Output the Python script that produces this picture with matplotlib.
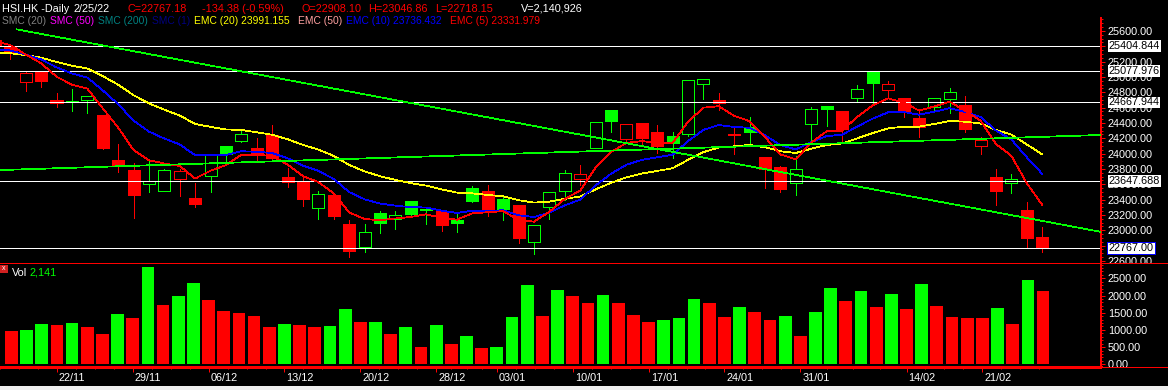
import numpy as np
import pandas as pd
import matplotlib
matplotlib.use('Agg')
import matplotlib.pyplot as plt
from matplotlib.patches import Rectangle
from matplotlib.lines import Line2D
from matplotlib.transforms import blended_transform_factory
from matplotlib.ticker import MultipleLocator, FormatStrFormatter

plt.rcParams['font.family'] = ['Liberation Sans', 'DejaVu Sans']
plt.rcParams['lines.antialiased'] = False
plt.rcParams['patch.antialiased'] = False

# trading days shown (HK holidays removed)
dates = pd.bdate_range('2021-11-17', '2022-02-25', freq='C',
                       holidays=['2021-12-27', '2022-02-01', '2022-02-02', '2022-02-03'])

opens = [25480, 25385, 24939, 25069, 24700, 24680, 24704, 24504, 23917, 23787,
         23600, 23517, 23674, 23422, 23709, 24100, 24169, 24074, 24244, 23692,
         23643, 23287, 23461, 23083, 22787, 23226, 23144, 23383, 23270, 23252,
         23135, 23552, 23513, 23409, 23330, 22844, 23309, 23517, 23674, 24070,
         24570, 24187, 24396, 24283, 24230, 24257, 24905, 24700, 24250, 24344,
         23957, 23826, 23622, 24391, 24620, 24557, 24730, 25065, 24834, 24722,
         24461, 24613, 24713, 24635, 24104, 23700, 23613, 23265, 22908.10]
highs = [25560, 25430, 25078, 25078, 24787, 24839, 24752, 24510, 24126, 23874,
         23913, 23800, 23796, 23617, 23983, 24100, 24309, 24200, 24374, 23809,
         23713, 23513, 23470, 23135, 23083, 23252, 23252, 23383, 23296, 23252,
         23230, 23578, 23591, 23439, 23330, 23070, 23496, 23787, 23852, 24409,
         24570, 24383, 24396, 24374, 24287, 24961, 24974, 24796, 24352, 24474,
         23957, 23843, 23970, 24605, 24620, 24560, 24896, 25065, 24948, 24722,
         24570, 24722, 24853, 24752, 24213, 23800, 23735, 23366, 23046.86]
lows = [25380, 25230, 24817, 24874, 24613, 24560, 24534, 24057, 23765, 23165,
        23504, 23517, 23452, 23308, 23504, 23908, 24152, 23904, 23917, 23561,
        23317, 23148, 23148, 22656, 22722, 22970, 23017, 23178, 23083, 22991,
        22982, 23370, 23191, 23135, 22839, 22691, 23148, 23396, 23591, 24070,
        24287, 24135, 24104, 24005, 23948, 24230, 24713, 24570, 23996, 24113,
        23556, 23504, 23461, 24122, 24361, 24135, 24687, 24657, 24722, 24483,
        24221, 24557, 24526, 24287, 23996, 23330, 23491, 22766, 22718.15]
closes = [25420, 25309, 25048, 24948, 24657, 24690, 24748, 24078, 23839, 23461,
          23647, 23787, 23774, 23348, 23983, 23996, 24253, 23987, 23940, 23634,
          23409, 23470, 23191, 22735, 22978, 23100, 23200, 23213, 23278, 23070,
          23092, 23387, 23265, 23278, 22904, 23070, 23496, 23748, 23735, 24409,
          24430, 24383, 24208, 24100, 24135, 24961, 24974, 24657, 24240, 24287,
          23800, 23539, 23796, 24579, 24585, 24322, 24840, 24926, 24905, 24561,
          24352, 24722, 24800, 24322, 24178, 23513, 23665, 22902, 22767.18]
volumes = [978, 997, 1172, 1143, 1201, 1085, 881, 1462, 1346, 2838,
           1724, 1985, 2363, 1869, 1549, 1491, 1404, 1085, 1172, 1143,
           1085, 1114, 1608, 1230, 1240, 881, 1085, 503, 1143, 590,
           823, 474, 503, 1375, 2305, 1404, 2160, 1985, 1782, 2015,
           1782, 1433, 1230, 1288, 1346, 1898, 1782, 1375, 1666, 1520,
           1288, 1404, 823, 1520, 2218, 1840, 2131, 1666, 2044, 1608,
           2334, 1695, 1375, 1346, 1340, 1637, 1172, 2451, 2141]

# EMA values already on the chart at the first bar (history before the window)
ema_seed = {5: 25470, 10: 25355, 20: 25310}
ema_colors = {20: '#FFFF00', 10: '#0000FF', 5: '#FF0000'}

# hand drawn trendlines: (bar index, price) pairs
trend_down = ([1.4, 72], [25622, 22973])
trend_up = ([0, 72], [23784, 24245])

levels = [25404.844, 25077.976, 24667.944, 23647.688]
last_close_label = 22767.00

tick_dates = ['22/11', '29/11', '06/12', '13/12', '20/12', '28/12', '03/01',
              '10/01', '17/01', '24/01', '31/01', '14/02', '21/02']

GREEN = '#00FF00'
RED = '#FF0000'
W, H = 1168, 390


def ema(values, span, seed):
    k = 2.0 / (span + 1)
    out = [seed]
    for v in values[1:]:
        out.append(out[-1] + k * (v - out[-1]))
    return out


def fx(px):
    return px / W


def fy(py):
    return 1 - py / H


fig = plt.figure(figsize=(W / 100, H / 100), dpi=100, facecolor='black')
px_to_pt = 0.72
thin = 0.55

ax = fig.add_axes([0, fy(263.3), fx(1101), fy(18) - fy(263.3)], facecolor='black', zorder=0)
axv = fig.add_axes([0, fy(367.3), fx(1101), fy(263.3) - fy(367.3)], facecolor='black', zorder=2)

idx = np.arange(len(closes))

# candles
for i in idx:
    up = closes[i] > closes[i - 1] if i > 0 else False
    col = GREEN if up else RED
    ax.vlines(i, lows[i], highs[i], color=col, lw=thin, zorder=1)
    lo = min(opens[i], closes[i])
    hi = max(opens[i], closes[i])
    hollow = closes[i] > opens[i]
    ax.add_patch(Rectangle((i - 0.39, lo), 0.78, hi - lo, facecolor='black' if hollow else col,
                           edgecolor=col, lw=thin, zorder=2))

for lv in levels + [last_close_label]:
    ax.axhline(lv, color='white', lw=thin, zorder=2.5)

for span in [20, 10, 5]:
    ax.plot(idx, ema(closes, span, ema_seed[span]), color=ema_colors[span], lw=thin, zorder=3)

ax.plot(trend_down[0], trend_down[1], color=GREEN, lw=thin, zorder=3)
ax.plot(trend_up[0], trend_up[1], color=GREEN, lw=thin, zorder=3)

xlim = (0.331, 71.82)
ax.set_xlim(*xlim)
ax.set_ylim(22570, 25600 + 13 / 0.0766667)

# volume
vol_colors = [RED] + [GREEN if volumes[i] > volumes[i - 1] else RED for i in range(1, len(volumes))]
axv.bar(idx, volumes, width=0.84, color=vol_colors, linewidth=0)
axv.set_xlim(*xlim)
axv.set_ylim(-87, 2936)

for a in (ax, axv):
    for s in ('top', 'left', 'bottom'):
        a.spines[s].set_visible(False)
    a.spines['right'].set_color(RED)
    a.spines['right'].set_linewidth(2 * px_to_pt)
    a.yaxis.tick_right()
    a.tick_params(axis='y', which='major', colors=RED, labelcolor='white', length=4 * px_to_pt,
                  width=px_to_pt, pad=2, labelsize=7.8)
    a.tick_params(axis='y', which='minor', colors=RED, length=2 * px_to_pt, width=px_to_pt)
    a.yaxis.set_major_formatter(FormatStrFormatter('%.2f'))

ax.yaxis.set_major_locator(MultipleLocator(200))
ax.yaxis.set_minor_locator(MultipleLocator(50))
ax.set_xticks([])
axv.yaxis.set_major_locator(MultipleLocator(500))
axv.yaxis.set_minor_locator(MultipleLocator(100))

# date axis
labels = list(dates.strftime('%d/%m'))
major = [labels.index(d) for d in tick_dates]
minor = []
for a0, a1 in zip(major[:-1], major[1:]):
    minor += list(np.linspace(a0, a1, 5)[1:-1])
minor += list(np.arange(major[-1] + (major[-1] - major[-2]) / 4, len(labels), (major[-1] - major[-2]) / 4))
minor = [major[0] - (major[1] - major[0]) / 4 * k for k in (1, 2, 3)] + minor
axv.spines['bottom'].set_visible(True)
axv.spines['bottom'].set_color(RED)
axv.set_xticks(major)
axv.set_xticks(minor, minor=True)
axv.set_xticklabels([])
axv.tick_params(axis='x', which='major', colors=RED, length=5 * px_to_pt, width=px_to_pt)
axv.tick_params(axis='x', which='minor', colors=RED, length=2 * px_to_pt, width=px_to_pt)
for m, d in zip(major, tick_dates):
    axv.annotate(d, xy=(m, 0), xycoords=('data', 'axes fraction'), xytext=(1.5, -7.8),
                 textcoords='offset points', color='white', fontsize=7.8, ha='left', va='center',
                 annotation_clip=False)

# price labels on the axis
tr = blended_transform_factory(ax.transAxes, ax.transData)
xl = 1 + 7.5 / 1101
for lv in levels:
    ax.text(xl, lv, f'{lv:.3f}', transform=tr, color='black', fontsize=7.8, ha='left', va='center',
            bbox=dict(boxstyle='square,pad=0.08', fc='white', ec='white', lw=0), clip_on=False, zorder=5)
ax.text(xl, last_close_label, f'{last_close_label:.2f}', transform=tr, color='black', fontsize=7.8,
        ha='left', va='center', bbox=dict(boxstyle='square,pad=0.12', fc='white', ec='#0000FF', lw=px_to_pt),
        clip_on=False, zorder=5)

# cover the label overflow between panels
fig.patches.append(Rectangle((fx(1102), fy(367.3)), 1 - fx(1102), fy(263.3) - fy(367.3),
                             transform=fig.transFigure, facecolor='black', edgecolor='none', zorder=1))
fig.patches.append(Rectangle((fx(1102), fy(385)), 1 - fx(1102), fy(367.3) - fy(385),
                             transform=fig.transFigure, facecolor='black', edgecolor='none', zorder=3))
fig.patches.append(Rectangle((0, 0), 1, fy(385.5), transform=fig.transFigure,
                             facecolor='#F0F0F0', edgecolor='none', zorder=3))
for yy in (263.3, 367.3):
    fig.add_artist(Line2D([0, 1], [fy(yy), fy(yy)], color=RED, lw=px_to_pt, zorder=4))

# header
head1 = [(2, 'HSI.HK -Daily', 'white'), (74, '2/25/22', 'white'), (127, 'C=22767.18', RED),
         (202, '-134.38 (-0.59%)', RED), (301, 'O=22908.10', RED), (368, 'H=23046.86', RED),
         (435, 'L=22718.15', RED), (521, 'V=2,140,926', 'white')]
head2 = [(2, 'SMC (20)', '#808080'), (50, 'SMC (50)', '#FF00FF'), (98, 'SMC (200)', '#008080'),
         (152, 'SMC (1)', '#000080'), (194, 'EMC (20) 23991.155', '#FFFF00'), (298, 'EMC (50)', '#FFA0A0'),
         (346, 'EMC (10) 23736.432', '#0000FF'), (450, 'EMC (5) 23331.979', RED)]
for x, t, c in head1:
    fig.text(fx(x), fy(8.5), t, color=c, fontsize=7.8, ha='left', va='center', zorder=6)
for x, t, c in head2:
    fig.text(fx(x), fy(21.5), t, color=c, fontsize=7.4, ha='left', va='center', zorder=6)

# volume panel title
fig.patches.append(Rectangle((fx(0), fy(272.5)), fx(7.5), fy(265) - fy(272.5), transform=fig.transFigure,
                             facecolor='#D02020', edgecolor='none', zorder=6))
fig.text(fx(3.7), fy(268.5), 'x', color='white', fontsize=5, ha='center', va='center', zorder=7)
fig.text(fx(11.5), fy(272.5), 'Vol', color='white', fontsize=7.8, ha='left', va='center', zorder=6)
fig.text(fx(30), fy(272.5), '2,141', color=GREEN, fontsize=7.8, ha='left', va='center', zorder=6)

fig.savefig('out.png', dpi=100, facecolor='black')
